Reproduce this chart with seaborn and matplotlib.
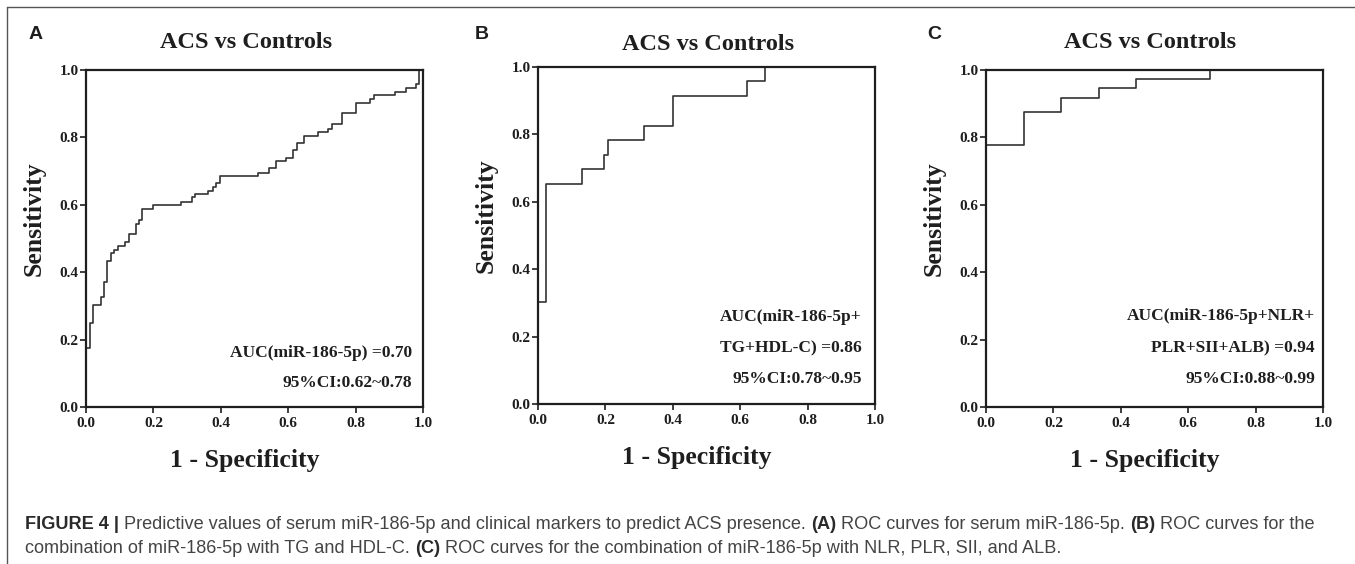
import numpy as np
import pandas as pd
import seaborn as sns
import matplotlib
matplotlib.use("Agg")
import matplotlib.pyplot as plt
from matplotlib.lines import Line2D

# ---------------- data (ROC step vertices) ----------------
fpr_a = [0.0, 0.0, 0.012, 0.022, 0.044, 0.053, 0.063, 0.073, 0.083, 0.094, 0.116,
         0.128, 0.147, 0.157, 0.167, 0.198, 0.282, 0.314, 0.323, 0.363, 0.376,
         0.386, 0.398, 0.511, 0.543, 0.564, 0.593, 0.615, 0.625, 0.647, 0.688,
         0.719, 0.729, 0.761, 0.801, 0.843, 0.855, 0.917, 0.949, 0.979, 0.989, 1.0]
tpr_a = [0.0, 0.175, 0.249, 0.303, 0.325, 0.370, 0.433, 0.456, 0.466, 0.478, 0.489,
         0.512, 0.543, 0.555, 0.588, 0.598, 0.609, 0.622, 0.631, 0.642, 0.654,
         0.664, 0.685, 0.695, 0.708, 0.730, 0.740, 0.763, 0.782, 0.804, 0.815,
         0.825, 0.839, 0.871, 0.903, 0.914, 0.926, 0.936, 0.946, 0.958, 1.0, 1.0]

fpr_b = [0.0, 0.0, 0.025, 0.132, 0.196, 0.207, 0.316, 0.402, 0.619, 0.673, 1.0]
tpr_b = [0.0, 0.304, 0.652, 0.696, 0.739, 0.783, 0.826, 0.913, 0.957, 1.0, 1.0]

fpr_c = [0.0, 0.0, 0.112, 0.224, 0.334, 0.444, 0.666, 1.0]
tpr_c = [0.0, 0.776, 0.875, 0.918, 0.947, 0.974, 1.0, 1.0]

panel_letters = ["A", "B", "C"]
panel_titles = ["ACS vs Controls", "ACS vs Controls", "ACS vs Controls"]
auc_texts = [
    ["AUC(miR-186-5p) =0.70", "95%CI:0.62~0.78"],
    ["AUC(miR-186-5p+", "TG+HDL-C) =0.86", "95%CI:0.78~0.95"],
    ["AUC(miR-186-5p+NLR+", "PLR+SII+ALB) =0.94", "95%CI:0.88~0.99"],
]
tick_values = [0.0, 0.2, 0.4, 0.6, 0.8, 1.0]
tick_labels = ["0.0", "0.2", "0.4", "0.6", "0.8", "1.0"]
x_label = "1 - Specificity"
y_label = "Sensitivity"

caption_line1 = [("FIGURE 4 |", True),
                 ("Predictive values of serum miR-186-5p and clinical markers to predict ACS presence.", False),
                 ("(A)", True), ("ROC curves for serum miR-186-5p.", False),
                 ("(B)", True), ("ROC curves for the", False)]
caption_line2 = [("combination of miR-186-5p with TG and HDL-C.", False),
                 ("(C)", True),
                 ("ROC curves for the combination of miR-186-5p with NLR, PLR, SII, and ALB.", False)]

# ---------------- style ----------------
sns.set_style("ticks")
plt.rcParams["font.family"] = ["Liberation Serif", "DejaVu Serif"]
plt.rcParams["axes.linewidth"] = 1.5

W, H = 1355, 564
fig = plt.figure(figsize=(W / 100, H / 100), dpi=100)
fig.patch.set_facecolor("white")

boxes = [(86, 70, 423, 407), (538, 67, 875, 404), (986, 70, 1323, 407)]
title_pos = [(246, 48), (708, 50), (1150, 48)]
letter_pos = [(29, 39), (475, 39), (927, 39)]
auc_pos = [
    (0.967, [0.148, 0.059]),
    (0.960, [0.247, 0.153, 0.061]),
    (0.976, [0.257, 0.163, 0.071]),
]
curves = [(fpr_a, tpr_a), (fpr_b, tpr_b), (fpr_c, tpr_c)]

ink = "#1e1e1e"
for i, (l, t, r, b) in enumerate(boxes):
    ax = fig.add_axes([l / W, 1 - b / H, (r - l) / W, (b - t) / H])
    fx, ty = curves[i]
    df = pd.DataFrame({"fpr": fx, "tpr": ty})
    sns.lineplot(data=df, x="fpr", y="tpr", ax=ax, estimator=None, sort=False,
                 drawstyle="steps-post", color="#333333", linewidth=1.2)
    ax.set_xlim(0, 1)
    ax.set_ylim(0, 1)
    for s in ax.spines.values():
        s.set_visible(True)
        s.set_linewidth(1.6)
        s.set_color(ink)
    ax.set_xticks(tick_values)
    ax.set_yticks(tick_values)
    ax.set_xticklabels(tick_labels, fontweight="bold", fontsize=11, color=ink)
    ax.set_yticklabels(tick_labels, fontweight="bold", fontsize=11, color=ink)
    ax.tick_params(axis="both", direction="out", length=4, width=1.2, color=ink,
                   top=False, right=False)
    ax.tick_params(axis="x", pad=3)
    ax.tick_params(axis="y", pad=1.5)
    ax.set_xlabel(x_label, fontsize=18.5, fontweight="bold", color=ink)
    ax.set_ylabel(y_label, fontsize=18.5, fontweight="bold", color=ink)
    ax.xaxis.set_label_coords(0.47, -0.125)
    ax.yaxis.set_label_coords(-0.12, 0.56)

    xr, ys = auc_pos[i]
    for txt, yy in zip(auc_texts[i], ys):
        ax.text(xr, yy, txt, transform=ax.transAxes, ha="right", va="baseline",
                fontsize=12.5, fontweight="bold", color=ink)

    tx, tyy = title_pos[i]
    fig.text(tx / W, 1 - tyy / H, panel_titles[i], ha="center", va="baseline",
             fontsize=17.5, fontweight="bold", color=ink)
    lx, ly = letter_pos[i]
    fig.text(lx / W, 1 - ly / H, panel_letters[i], ha="left", va="baseline",
             fontsize=14, fontweight="bold", color=ink,
             family=["Liberation Sans", "DejaVu Sans"])

# ---------------- frame lines (top + left) ----------------
fig.add_artist(Line2D([7 / W, 1.0], [1 - 7 / H, 1 - 7 / H], transform=fig.transFigure,
                      color="#555555", linewidth=1.0))
fig.add_artist(Line2D([7 / W, 7 / W], [1 - 7 / H, 0.0], transform=fig.transFigure,
                      color="#555555", linewidth=1.0))

# ---------------- caption ----------------
renderer = fig.canvas.get_renderer()
cap_family = ["Liberation Sans Narrow", "Liberation Sans", "DejaVu Sans"]


def text_w(s, fs, bold):
    t = fig.text(0, 0, s, fontsize=fs, fontweight="bold" if bold else "normal",
                 family=cap_family)
    w = t.get_window_extent(renderer).width
    t.remove()
    return w


def line_width(pieces, fs):
    sp = text_w("a a", fs, False) - text_w("aa", fs, False)
    return sum(text_w(s, fs, b) for s, b in pieces) + sp * (len(pieces) - 1)


def draw_line(pieces, x0, y, fs):
    sp = text_w("a a", fs, False) - text_w("aa", fs, False)
    x = x0
    for s, b in pieces:
        t = fig.text(x / W, 1 - y / H, s, fontsize=fs, ha="left", va="baseline",
                     fontweight="bold" if b else "normal", family=cap_family,
                     color="#2a2a2a" if b else "#444444")
        x += t.get_window_extent(renderer).width + sp


base_fs = 12.0
target = 1293.0
fs = base_fs * target / line_width(caption_line1, base_fs)
draw_line(caption_line1, 25, 529, fs)
draw_line(caption_line2, 25, 553, fs)

fig.savefig("out.png", dpi=100, facecolor="white")
